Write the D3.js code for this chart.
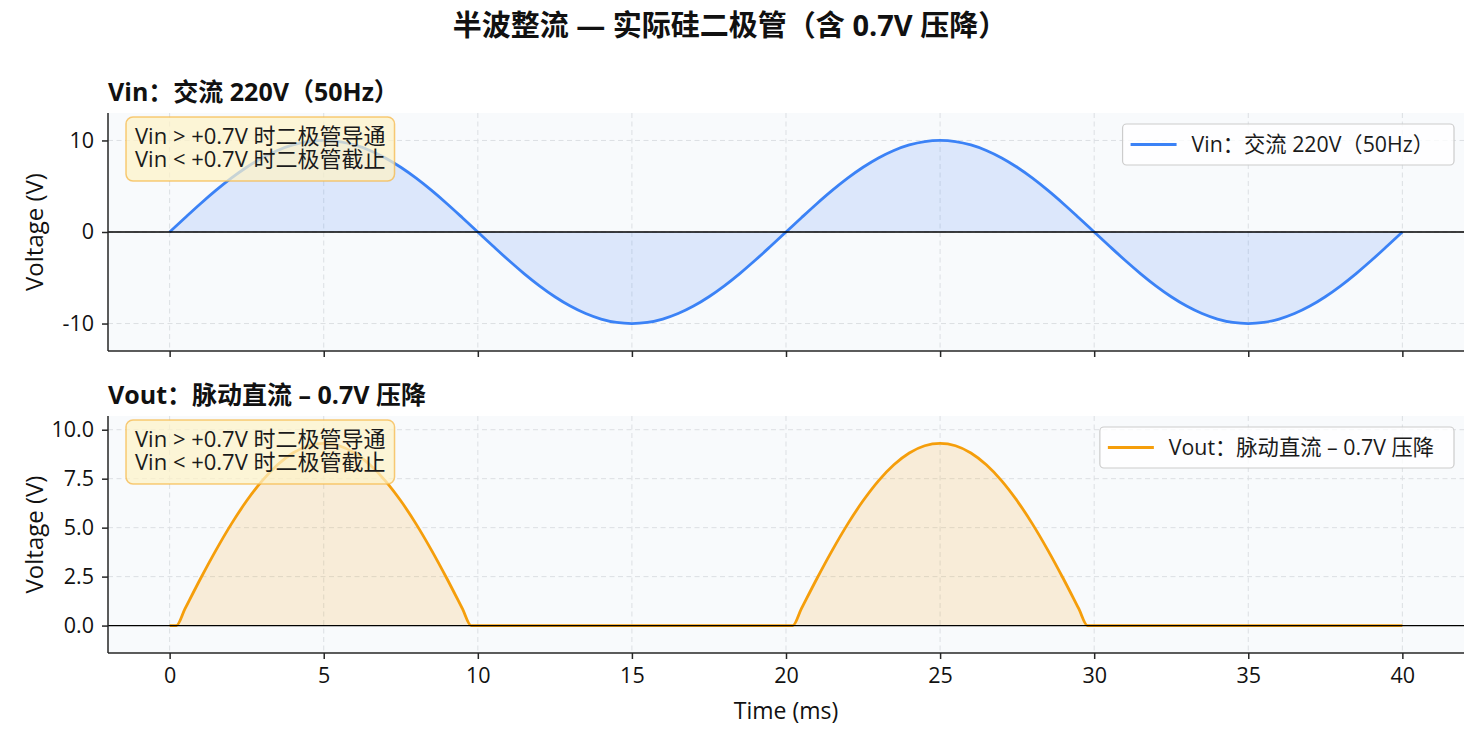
<!DOCTYPE html>
<html>
<head>
<meta charset="utf-8">
<script src="https://cdn.jsdelivr.net/npm/d3@7"></script>
<style>
  html, body { margin: 0; padding: 0; background: #ffffff; }
  svg { display: block; font-family: "Open Sans", "Noto Sans CJK SC", sans-serif; }
</style>
</head>
<body>
<svg id="chart" width="1479" height="740"></svg>
<script>
// ---------------- data ----------------
const figTitle = "半波整流 — 实际硅二极管（含 0.7V 压降）";
const vinTitle = "Vin：交流 220V（50Hz）";
const voutTitle = "Vout：脉动直流 – 0.7V 压降";
const noteLines = ["Vin > +0.7V 时二极管导通", "Vin < +0.7V 时二极管截止"];
const xLabel = "Time (ms)";
const yLabel = "Voltage (V)";

const xTicks = [0, 5, 10, 15, 20, 25, 30, 35, 40];
const vinTicks = [-10, 0, 10];
const voutTicks = [0, 2.5, 5, 7.5, 10];

// time samples (ms)
const time = [
  0,0.5,1,1.5,2,2.5,3,3.5,4,4.5,5,5.5,6,6.5,7,7.5,8,8.5,9,9.5,
  10,10.5,11,11.5,12,12.5,13,13.5,14,14.5,15,15.5,16,16.5,17,17.5,18,18.5,19,19.5,
  20,20.5,21,21.5,22,22.5,23,23.5,24,24.5,25,25.5,26,26.5,27,27.5,28,28.5,29,29.5,
  30,30.5,31,31.5,32,32.5,33,33.5,34,34.5,35,35.5,36,36.5,37,37.5,38,38.5,39,39.5,
  40
];
// Vin (V)
const vin = [
  0,1.56,3.09,4.54,5.88,7.07,8.09,8.91,9.51,9.88,10,9.88,9.51,8.91,8.09,7.07,5.88,4.54,3.09,1.56,
  0,-1.56,-3.09,-4.54,-5.88,-7.07,-8.09,-8.91,-9.51,-9.88,-10,-9.88,-9.51,-8.91,-8.09,-7.07,-5.88,-4.54,-3.09,-1.56,
  0,1.56,3.09,4.54,5.88,7.07,8.09,8.91,9.51,9.88,10,9.88,9.51,8.91,8.09,7.07,5.88,4.54,3.09,1.56,
  0,-1.56,-3.09,-4.54,-5.88,-7.07,-8.09,-8.91,-9.51,-9.88,-10,-9.88,-9.51,-8.91,-8.09,-7.07,-5.88,-4.54,-3.09,-1.56,
  0
];
// Vout time samples (ms) and values (V)
const voutTime = [
  0,0.22,0.5,1,1.5,2,2.5,3,3.5,4,4.5,5,5.5,6,6.5,7,7.5,8,8.5,9,9.5,9.78,
  20.22,20.5,21,21.5,22,22.5,23,23.5,24,24.5,25,25.5,26,26.5,27,27.5,28,28.5,29,29.5,29.78,
  40
];
const vout = [
  0,0,0.86,2.39,3.84,5.18,6.37,7.39,8.21,8.81,9.18,9.3,9.18,8.81,8.21,7.39,6.37,5.18,3.84,2.39,0.86,0,
  0,0.86,2.39,3.84,5.18,6.37,7.39,8.21,8.81,9.18,9.3,9.18,8.81,8.21,7.39,6.37,5.18,3.84,2.39,0.86,0,
  0
];

// ---------------- layout ----------------
const svg = d3.select("#chart");
const W = 1479, H = 740;
const left = 108, right = 1464;
const FONT = "'Open Sans', 'Noto Sans CJK SC', sans-serif";
const hyphenInt = d => String(d).replace("−", "-");
const panels = [
  { top: 113, bottom: 351, domain: [-13, 13], ticks: vinTicks, fmt: hyphenInt,
    t: time, v: vin, color: "#3b82f6", title: vinTitle, legend: vinTitle, showX: false },
  { top: 416, bottom: 653, domain: [-1.4, 10.7], ticks: voutTicks, fmt: d3.format(".1f"),
    t: voutTime, v: vout, color: "#f59e0b", title: voutTitle, legend: voutTitle, showX: true }
];

const x = d3.scaleLinear().domain([-2, 42]).range([left, right]);

svg.append("rect").attr("width", W).attr("height", H).attr("fill", "#ffffff");

svg.append("text")
  .attr("x", 730).attr("y", 36)
  .attr("text-anchor", "middle")
  .attr("font-size", 29).attr("font-weight", "bold").attr("fill", "#111")
  .text(figTitle);

panels.forEach(p => {
  const y = d3.scaleLinear().domain(p.domain).range([p.bottom, p.top]);
  const g = svg.append("g");

  g.append("rect")
    .attr("x", left).attr("y", p.top)
    .attr("width", right - left).attr("height", p.bottom - p.top)
    .attr("fill", "#f8fafc");

  // grid
  const grid = g.append("g").attr("stroke", "#dcdfe3").attr("stroke-width", 1)
    .attr("stroke-dasharray", "5,3.5");
  xTicks.forEach(t => grid.append("line")
    .attr("x1", x(t)).attr("x2", x(t)).attr("y1", p.top).attr("y2", p.bottom));
  p.ticks.forEach(t => grid.append("line")
    .attr("x1", left).attr("x2", right).attr("y1", y(t)).attr("y2", y(t)));

  const pts = p.t.map((t, i) => [t, p.v[i]]);

  // fill
  g.append("path")
    .datum(pts)
    .attr("d", d3.area().x(d => x(d[0])).y0(y(0)).y1(d => y(d[1])).curve(d3.curveMonotoneX))
    .attr("fill", p.color).attr("fill-opacity", 0.15);

  // line
  g.append("path")
    .datum(pts)
    .attr("d", d3.line().x(d => x(d[0])).y(d => y(d[1])).curve(d3.curveMonotoneX))
    .attr("fill", "none").attr("stroke", p.color).attr("stroke-width", 2.8)
    .attr("stroke-linejoin", "round");

  // zero line
  g.append("line")
    .attr("x1", left).attr("x2", right).attr("y1", y(0)).attr("y2", y(0))
    .attr("stroke", "#000").attr("stroke-width", 1.3);

  // axes
  const ya = g.append("g").attr("transform", `translate(${left},0)`)
    .call(d3.axisLeft(y).tickValues(p.ticks).tickFormat(p.fmt).tickSize(6).tickPadding(8));
  const xa = g.append("g").attr("transform", `translate(0,${p.bottom})`)
    .call(d3.axisBottom(x).tickValues(xTicks).tickFormat(p.showX ? d3.format("d") : () => "")
      .tickSize(6).tickPadding(9));
  [ya, xa].forEach(a => {
    a.select(".domain").attr("stroke", "#262626").attr("stroke-width", 1.5);
    a.selectAll(".tick line").attr("stroke", "#262626").attr("stroke-width", 1.5);
    a.selectAll(".tick text").attr("fill", "#111").attr("font-size", 21.5)
      .attr("font-family", FONT);
  });
  ya.select(".domain").attr("d", `M0,${p.top}V${p.bottom}`);
  xa.select(".domain").attr("d", `M${left},0H${right}`);

  // subplot title
  g.append("text")
    .attr("x", left).attr("y", p.top - 12)
    .attr("font-size", 25).attr("font-weight", "bold").attr("fill", "#111")
    .text(p.title);

  // y label
  g.append("text")
    .attr("transform", `translate(43,${(p.top + p.bottom) / 2}) rotate(-90)`)
    .attr("text-anchor", "middle")
    .attr("font-size", 24).attr("fill", "#111")
    .text(yLabel);

  // annotation box (one text element, two lines)
  const ng = g.append("g");
  const nb = ng.append("rect");
  const nt = ng.append("text").attr("font-size", 22).attr("fill", "#1a1a1a");
  noteLines.forEach((s, i) => nt.append("tspan")
    .attr("x", left + 27).attr("y", p.top + 30.5 + i * 23.4).text(s));
  const tw = d3.max(nt.selectAll("tspan").nodes(), n => n.getComputedTextLength());
  nb.attr("x", left + 18).attr("y", p.top + 4)
    .attr("width", tw + 18).attr("height", 64)
    .attr("rx", 7).attr("ry", 7)
    .attr("fill", "#fef3c7").attr("fill-opacity", 0.72)
    .attr("stroke", "#f5b84a").attr("stroke-opacity", 0.75).attr("stroke-width", 1.5);

  // legend
  const lg = g.append("g");
  const lb = lg.append("rect");
  const lt = lg.append("text").attr("font-size", 21.3).attr("fill", "#1a1a1a").text(p.legend);
  const lw = lt.node().getComputedTextLength();
  const bx1 = right - 10, by0 = p.top + 11, bh = 41;
  const bx0 = bx1 - (lw + 20 + 15 + 46 + 8);
  lb.attr("x", bx0).attr("y", by0).attr("width", bx1 - bx0).attr("height", bh)
    .attr("rx", 4).attr("ry", 4)
    .attr("fill", "#ffffff").attr("fill-opacity", 0.8)
    .attr("stroke", "#cccccc").attr("stroke-width", 1.2);
  lg.append("line")
    .attr("x1", bx0 + 8).attr("x2", bx0 + 54)
    .attr("y1", by0 + bh / 2).attr("y2", by0 + bh / 2)
    .attr("stroke", p.color).attr("stroke-width", 3);
  lt.attr("x", bx0 + 69).attr("y", by0 + bh / 2 + 7.5);

  if (p.showX) {
    svg.append("text")
      .attr("x", (left + right) / 2).attr("y", 719)
      .attr("text-anchor", "middle")
      .attr("font-size", 23).attr("fill", "#111")
      .text(xLabel);
  }
});
</script>
</body>
</html>
